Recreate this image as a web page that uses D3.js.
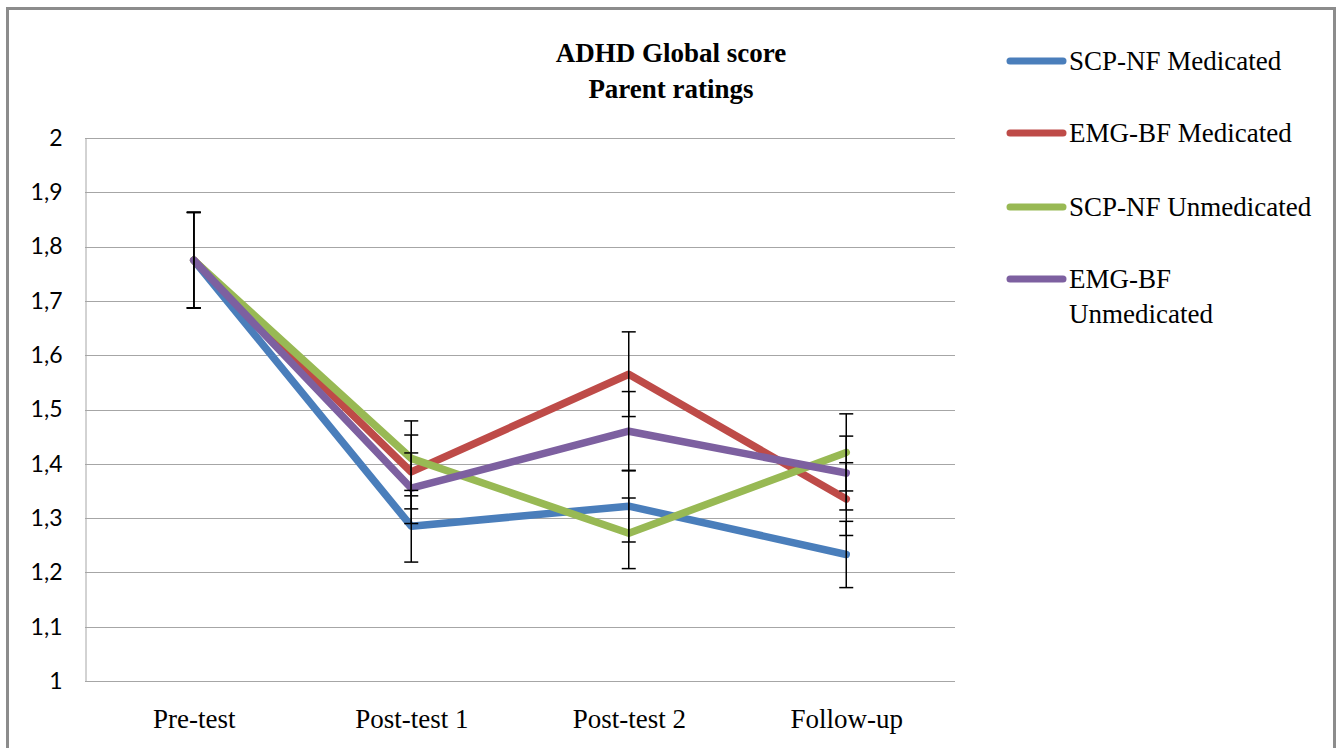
<!DOCTYPE html>
<html><head><meta charset="utf-8">
<script src="https://cdn.jsdelivr.net/npm/d3@7"></script>
<style>body{margin:0;background:#fff}svg{display:block}</style>
</head><body>
<script>
const categories = ["Pre-test","Post-test 1","Post-test 2","Follow-up"];
const seriesNames = ["SCP-NF Medicated","EMG-BF Medicated","SCP-NF Unmedicated","EMG-BF Unmedicated"];
const scpMed = [1.775,1.285,1.322,1.233];
const emgMed = [1.775,1.385,1.565,1.335];
const scpUnmed = [1.775,1.41,1.272,1.421];
const emgUnmed = [1.775,1.355,1.46,1.383];
const scpMedErr = [0.088,0.066,0.066,0.061];
const emgMedErr = [0.088,0.068,0.078,0.067];
const scpUnmedErr = [0.088,0.069,0.065,0.071];
const emgUnmedErr = [0.088,0.065,0.073,0.068];
const yTicks = [1,1.1,1.2,1.3,1.4,1.5,1.6,1.7,1.8,1.9,2];
const colors = ["#4a7ebb","#be4b48","#98b954","#7d60a0"];

const series = [
  {name:seriesNames[0], values:scpMed, err:scpMedErr, color:colors[0]},
  {name:seriesNames[1], values:emgMed, err:emgMedErr, color:colors[1]},
  {name:seriesNames[2], values:scpUnmed, err:scpUnmedErr, color:colors[2]},
  {name:seriesNames[3], values:emgUnmed, err:emgUnmedErr, color:colors[3]}
];

const W=1338,H=748;
const serif="'Liberation Serif', 'Times New Roman', serif";
const svg=d3.select("body").append("svg").attr("width",W).attr("height",H);
svg.append("rect").attr("x",7.5).attr("y",8.5).attr("width",1327).attr("height",760)
  .attr("fill","#fff").attr("stroke","#8c8c8c").attr("stroke-width",3);

const pL=85,pR=955,pT=138,pB=681;
const x=d3.scalePoint().domain(categories).range([pL,pR]).padding(0.5);
const y=d3.scaleLinear().domain([1,2]).range([pB,pT]);

// gridlines
svg.append("g").selectAll("line").data(yTicks.slice(1)).join("line")
  .attr("x1",pL).attr("x2",pR).attr("y1",d=>Math.round(y(d))+0.5).attr("y2",d=>Math.round(y(d))+0.5)
  .attr("stroke","#a6a6a6").attr("stroke-width",1);

// axes
const yAxis=svg.append("g").attr("transform",`translate(${pL+0.5},0)`)
  .call(d3.axisLeft(y).tickValues(yTicks).tickSize(0).tickPadding(23).tickFormat(d=>d3.format(".1~f")(d).replace(".",",")));
yAxis.select(".domain").attr("stroke","#a6a6a6");
yAxis.selectAll("text").attr("font-family","Lato, 'Open Sans', sans-serif").attr("font-size",23).attr("fill","#000");

const xAxis=svg.append("g").attr("transform",`translate(0,${pB+0.5})`)
  .call(d3.axisBottom(x).tickSize(0).tickPadding(27));
xAxis.select(".domain").attr("stroke","#a6a6a6").attr("d",`M${pL},0H${pR}`);
xAxis.selectAll("text").attr("font-family",serif).attr("font-size",27).attr("fill","#000");

// lines
const line=d3.line().x((d,i)=>x(categories[i])).y(d=>y(d));
series.forEach(s=>{
  svg.append("path").datum(s.values).attr("d",line).attr("fill","none")
    .attr("stroke",s.color).attr("stroke-width",7.5).attr("stroke-linejoin","round").attr("stroke-linecap","round");
});
// error bars
series.forEach(s=>{
  const g=svg.append("g").attr("stroke","#000").attr("stroke-width",1.5);
  s.values.forEach((v,i)=>{
    const cx=x(categories[i]);
    const e=s.err[i];
    g.append("line").attr("x1",cx).attr("x2",cx).attr("y1",y(v+e)).attr("y2",y(v-e));
    g.append("line").attr("x1",cx-7).attr("x2",cx+7).attr("y1",y(v+e)).attr("y2",y(v+e));
    g.append("line").attr("x1",cx-7).attr("x2",cx+7).attr("y1",y(v-e)).attr("y2",y(v-e));
  });
});

// title
const title=svg.append("text").attr("x",671).attr("text-anchor","middle")
  .attr("font-family",serif).attr("font-weight","bold").attr("font-size",27);
title.append("tspan").attr("x",671).attr("y",62).text("ADHD Global score");
title.append("tspan").attr("x",671).attr("y",98).text("Parent ratings");

// legend
const legY=[61,133,207,279];
series.forEach((s,i)=>{
  const g=svg.append("g");
  g.append("line").attr("x1",1010).attr("x2",1063).attr("y1",legY[i]).attr("y2",legY[i])
    .attr("stroke",s.color).attr("stroke-width",7).attr("stroke-linecap","round");
  const t=g.append("text").attr("font-family",serif).attr("font-size",27).attr("fill","#000");
  if(i===3){
    t.append("tspan").attr("x",1069).attr("y",legY[i]+9).text("EMG-BF");
    t.append("tspan").attr("x",1069).attr("y",legY[i]+44).text("Unmedicated");
  } else {
    t.attr("x",1069).attr("y",legY[i]+9).text(s.name);
  }
});
</script>
</body></html>
